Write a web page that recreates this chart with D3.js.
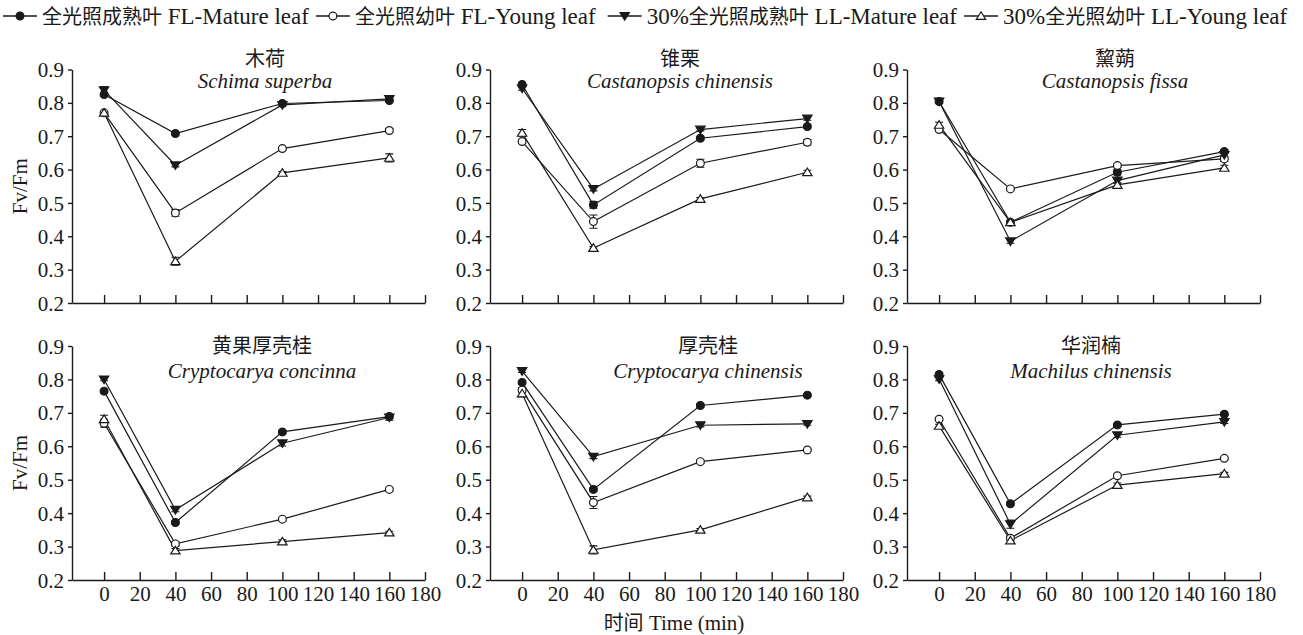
<!DOCTYPE html>
<html>
<head>
<meta charset="utf-8">
<script src="https://cdn.jsdelivr.net/npm/d3@7"></script>
<style>
  body { margin: 0; background: #fff; }
  svg text { font-family: "Liberation Serif", "Times New Roman", serif; fill: #1a1a1a; }
</style>
</head>
<body>
<svg id="chart" width="1303" height="635"></svg>
<script>
// ---- data -------------------------------------------------------------
const times = [0, 40, 100, 160];
const xTicks = [0, 20, 40, 60, 80, 100, 120, 140, 160, 180];
const yTicks = [0.2, 0.3, 0.4, 0.5, 0.6, 0.7, 0.8, 0.9];

const seriesCn = ["全光照成熟叶", "全光照幼叶", "30%全光照成熟叶", "30%全光照幼叶"];
const seriesEn = ["FL-Mature leaf", "FL-Young leaf", "LL-Mature leaf", "LL-Young leaf"];
const seriesMarker = ["dot", "ring", "down", "up"];

const speciesCn = ["木荷", "锥栗", "黧蒴", "黄果厚壳桂", "厚壳桂", "华润楠"];
const speciesLatin = ["Schima superba", "Castanopsis chinensis", "Castanopsis fissa",
                      "Cryptocarya concinna", "Cryptocarya chinensis", "Machilus chinensis"];

// Fv/Fm means, one row per series: FL mature, FL young, LL mature, LL young
const schimaSuperba = [
  [0.825, 0.708, 0.798, 0.807],
  [0.770, 0.470, 0.663, 0.717],
  [0.838, 0.613, 0.794, 0.812],
  [0.770, 0.325, 0.590, 0.635]
];
const castanopsisChinensis = [
  [0.855, 0.494, 0.694, 0.729],
  [0.684, 0.444, 0.619, 0.682],
  [0.843, 0.542, 0.720, 0.753],
  [0.710, 0.365, 0.512, 0.592]
];
const castanopsisFissa = [
  [0.804, 0.442, 0.592, 0.654],
  [0.720, 0.542, 0.612, 0.632],
  [0.804, 0.385, 0.567, 0.644],
  [0.734, 0.442, 0.554, 0.605]
];
const cryptocaryaConcinna = [
  [0.765, 0.372, 0.643, 0.689],
  [0.669, 0.308, 0.382, 0.471],
  [0.800, 0.410, 0.609, 0.686],
  [0.681, 0.288, 0.315, 0.342]
];
const cryptocaryaChinensis = [
  [0.791, 0.471, 0.722, 0.753],
  [0.768, 0.432, 0.554, 0.589],
  [0.825, 0.569, 0.663, 0.667],
  [0.758, 0.290, 0.350, 0.447]
];
const machilusChinensis = [
  [0.815, 0.428, 0.664, 0.696],
  [0.681, 0.325, 0.512, 0.564],
  [0.801, 0.367, 0.633, 0.673],
  [0.661, 0.318, 0.484, 0.518]
];

// standard errors, same layout as the means
const schimaSuperbaSE = [
  [0.005, 0.004, 0.004, 0.004], [0.004, 0.010, 0.004, 0.006],
  [0.010, 0.005, 0.005, 0.005], [0.005, 0.012, 0.004, 0.012]
];
const castanopsisChinensisSE = [
  [0.005, 0.010, 0.006, 0.005], [0.006, 0.020, 0.012, 0.008],
  [0.005, 0.006, 0.004, 0.005], [0.010, 0.004, 0.004, 0.006]
];
const castanopsisFissaSE = [
  [0.005, 0.005, 0.008, 0.006], [0.005, 0.004, 0.005, 0.008],
  [0.005, 0.006, 0.008, 0.006], [0.008, 0.005, 0.006, 0.008]
];
const cryptocaryaConcinnaSE = [
  [0.005, 0.005, 0.005, 0.006], [0.012, 0.006, 0.005, 0.005],
  [0.004, 0.006, 0.008, 0.008], [0.012, 0.006, 0.005, 0.004]
];
const cryptocaryaChinensisSE = [
  [0.005, 0.005, 0.005, 0.004], [0.008, 0.018, 0.005, 0.004],
  [0.004, 0.006, 0.005, 0.004], [0.010, 0.012, 0.004, 0.004]
];
const machilusChinensisSE = [
  [0.005, 0.005, 0.004, 0.004], [0.004, 0.006, 0.004, 0.004],
  [0.005, 0.012, 0.006, 0.005], [0.005, 0.006, 0.006, 0.004]
];

const panelMeans = [schimaSuperba, castanopsisChinensis, castanopsisFissa,
                    cryptocaryaConcinna, cryptocaryaChinensis, machilusChinensis];
const panelSE = [schimaSuperbaSE, castanopsisChinensisSE, castanopsisFissaSE,
                 cryptocaryaConcinnaSE, cryptocaryaChinensisSE, machilusChinensisSE];

// ---- layout -----------------------------------------------------------
const INK = "#1a1a1a";
const colLeft = [72, 490, 907];         // y-axis position of each column
const plotW = 353;
const rowTop = [69.5, 346];             // pixel of 0.9
const rowBottom = [303, 580];           // pixel of 0.2
const titleX = [265, 680, 1115, 262, 708, 1091];
const titleCnBase = [65.5, 353];
const titleLatinBase = [88, 378];

const isCjk = ch => /[\u3400-\u9fff]/.test(ch);

// write a string as runs of CJK / Latin tspans
function mixedText(sel, str, latinSize, cjkSize, italic = false) {
  const runs = [];
  for (const ch of str) {
    const c = isCjk(ch);
    if (runs.length && runs[runs.length - 1].c === c) runs[runs.length - 1].t += ch;
    else runs.push({ c, t: ch });
  }
  runs.forEach(r => {
    sel.append("tspan")
      .style("font-family", r.c ? '"Noto Sans CJK SC", sans-serif' : '"Liberation Serif", serif')
      .style("font-size", (r.c ? cjkSize : latinSize) + "px")
      .style("font-style", italic && !r.c ? "italic" : "normal")
      .text(r.t);
  });
  return sel;
}

function drawMarker(g, type, x, y) {
  const s = 4.2;
  if (type === "dot" || type === "ring") {
    g.append("circle").attr("cx", x).attr("cy", y).attr("r", 3.9)
      .attr("fill", type === "dot" ? INK : "#fff")
      .attr("stroke", INK).attr("stroke-width", 1.2);
  } else {
    const pts = type === "down"
      ? [[x - s - 0.5, y - s * 0.8], [x + s + 0.5, y - s * 0.8], [x, y + s]]
      : [[x - s - 0.5, y + s * 0.8], [x + s + 0.5, y + s * 0.8], [x, y - s]];
    g.append("path").attr("d", "M" + pts.map(p => p.join(",")).join("L") + "Z")
      .attr("fill", type === "down" ? INK : "#fff")
      .attr("stroke", INK).attr("stroke-width", 1.2).attr("stroke-linejoin", "miter");
  }
}

const svg = d3.select("#chart");

// ---- panels -----------------------------------------------------------
panelMeans.forEach((means, p) => {
  const row = Math.floor(p / 3), col = p % 3;
  const left = colLeft[col];
  const x = d3.scaleLinear().domain([-18, 180]).range([left, left + plotW]);
  const y = d3.scaleLinear().domain([0.2, 0.9]).range([rowBottom[row], rowTop[row]]);
  const g = svg.append("g");

  // x axis, ticks pointing into the plot
  const xa = g.append("g").attr("transform", `translate(0,${y(0.2)})`)
    .call(d3.axisBottom(x).tickValues(xTicks).tickSizeInner(-8).tickSizeOuter(0)
      .tickPadding(6).tickFormat(row === 1 ? d3.format("d") : () => ""));
  // y axis, ticks pointing outward
  const ya = g.append("g").attr("transform", `translate(${left},0)`)
    .call(d3.axisLeft(y).tickValues(yTicks).tickSizeInner(4).tickSizeOuter(0)
      .tickPadding(4).tickFormat(d3.format(".1f")));
  [xa, ya].forEach(a => {
    a.selectAll("path, line").attr("stroke", INK).attr("stroke-width", 1.4);
    a.selectAll("text").attr("fill", INK).style("font-family", '"Liberation Serif", serif')
      .style("font-size", "21px");
  });
  ya.selectAll("text").attr("dy", "0.34em");
  xa.selectAll("text").attr("dy", "0.71em");

  // titles
  mixedText(g.append("text").attr("x", titleX[p]).attr("y", titleCnBase[row])
    .attr("text-anchor", "middle"), speciesCn[p], 21, 20);
  mixedText(g.append("text").attr("x", titleX[p]).attr("y", titleLatinBase[row])
    .attr("text-anchor", "middle"), speciesLatin[p], 21, 20, true);

  // y label on the left column
  if (col === 0) {
    g.append("text")
      .attr("transform", `translate(27,${(y(0.2) + y(0.9)) / 2}) rotate(-90)`)
      .attr("text-anchor", "middle").style("font-size", "21px").text("Fv/Fm");
  }

  const line = d3.line().x((d, i) => x(times[i])).y(d => y(d));
  const se = panelSE[p];

  means.forEach(vals => {
    g.append("path").datum(vals).attr("d", line)
      .attr("fill", "none").attr("stroke", INK).attr("stroke-width", 1.2);
  });
  // error bars
  means.forEach((vals, s) => {
    vals.forEach((v, i) => {
      const cx = x(times[i]), e = se[s][i];
      const y1 = y(v - e), y2 = y(v + e);
      g.append("path")
        .attr("d", `M${cx},${y1}V${y2}M${cx - 4},${y1}H${cx + 4}M${cx - 4},${y2}H${cx + 4}`)
        .attr("stroke", INK).attr("stroke-width", 1.1).attr("fill", "none");
    });
  });
  // markers
  means.forEach((vals, s) => {
    vals.forEach((v, i) => drawMarker(g, seriesMarker[s], x(times[i]), y(v)));
  });
});

// x axis title
mixedText(svg.append("text").attr("x", 674).attr("y", 630).attr("text-anchor", "middle"),
  "时间 Time (min)", 21, 20);

// ---- legend: items laid out one after another -------------------------
const legend = svg.append("g");
const gapAfter = [7, 12, 7, 0];
let sx = 3;
seriesCn.forEach((cn, i) => {
  const ly = 16;
  legend.append("line").attr("x1", sx).attr("x2", sx + 34).attr("y1", ly).attr("y2", ly)
    .attr("stroke", INK).attr("stroke-width", 1.4);
  drawMarker(legend, seriesMarker[i], sx + 17, ly);
  const t = mixedText(legend.append("text").attr("x", sx + 39).attr("y", 24),
    cn + " " + seriesEn[i], 23, 20);
  sx = sx + 39 + t.node().getComputedTextLength() + gapAfter[i];
});
</script>
</body>
</html>
